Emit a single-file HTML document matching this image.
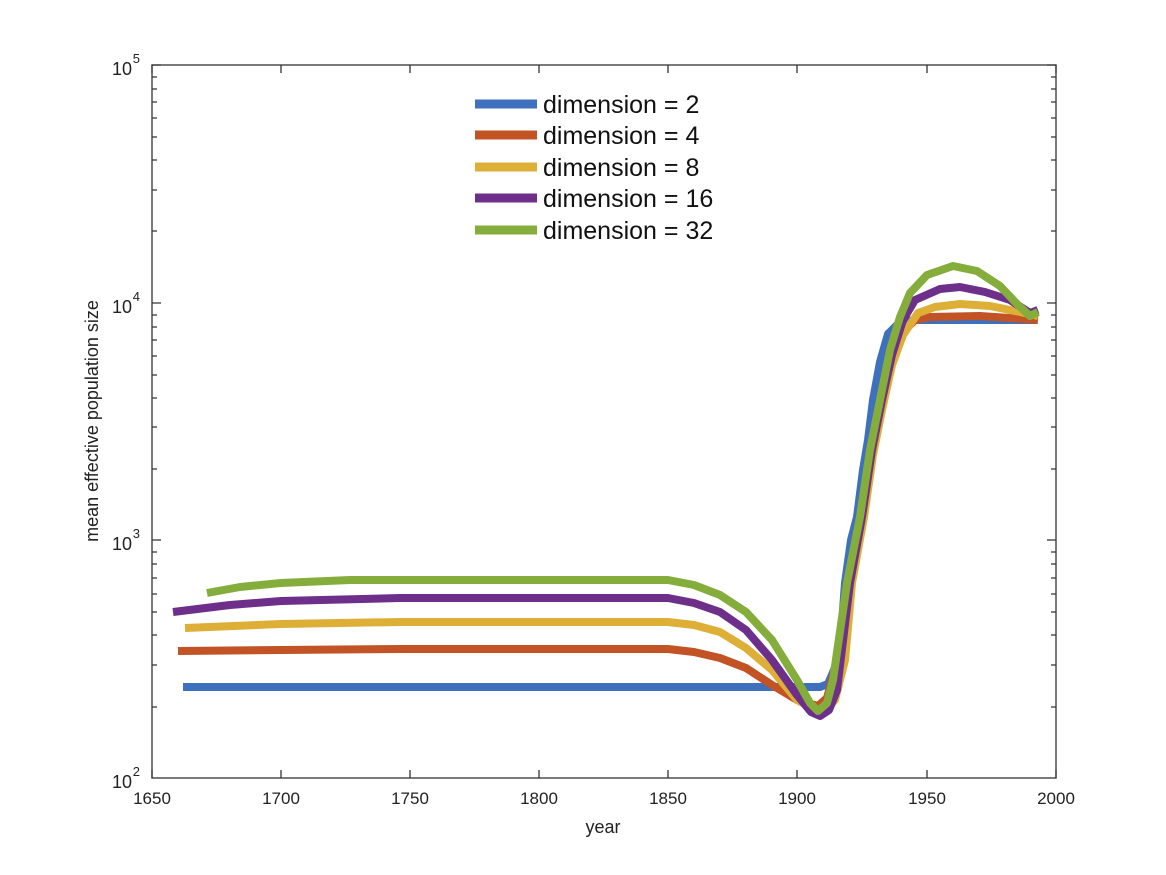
<!DOCTYPE html>
<html><head><style>body{margin:0;background:#fff}svg{display:block}</style></head><body>
<svg width="1166" height="875" xmlns="http://www.w3.org/2000/svg" font-family="Liberation Sans, sans-serif">
<rect width="1166" height="875" fill="#fff"/>
<g fill="none" stroke-width="8" stroke-linejoin="round">
<polyline stroke="#3f70bd" points="183,687 820,687 828,684 834,670 840,650 845,583 851,540 857,517 863,470 868,440 873,400 880,362 888,334 900,322 915,320 1037,320"/>
<polyline stroke="#c15325" points="178,651 281,650 400,649 668,649 694,652 720,658 746,668 772,685 797,700 818,706 827,698 840,650 848,583 861,517 870,455 879,410 889,365 900,335 915,320 930,317 980,316 1038,320"/>
<polyline stroke="#deaf36" points="185,628 281,624 400,622 668,622 694,625 720,632 746,648 772,670 797,700 823,713 835,700 845,660 852,583 864,517 873,455 882,410 892,365 903,335 918,313 935,307 960,304 990,306 1020,312 1038,316"/>
<polyline stroke="#6e2f8a" points="173,612 230,605 281,601 400,598 668,598 694,603 720,612 746,630 772,660 797,695 811,712 820,716 829,710 837,690 850,583 862,517 872,450 882,400 892,355 903,320 915,300 940,289 960,287 985,292 1010,300 1030,313 1038,310"/>
<polyline stroke="#84ad3c" points="207,593 240,587 281,583 350,580 668,580 694,585 720,595 746,612 772,640 797,680 810,703 818,711 827,703 833,680 847,583 860,517 870,450 880,400 890,350 900,317 910,293 927,275 953,266 977,271 1000,286 1017,304 1030,316 1038,312"/>
</g>
<g stroke="#333" stroke-width="1.3" fill="none">
<rect x="152" y="65" width="904" height="713"/>
<path d="M152,65v8M281,65v8M410,65v8M539,65v8M668,65v8M797,65v8M927,65v8M1056,65v8M152,778v-8M281,778v-8M410,778v-8M539,778v-8M668,778v-8M797,778v-8M927,778v-8M1056,778v-8
M152,65h9M152,303h9M152,540h9M1056,65h-9M1056,303h-9M1056,540h-9"/>
</g>
<g stroke="#333" stroke-width="1.2">
<path d="M152,707h5M152,665h5M152,635h5M152,612h5M152,594h5M152,578h5M152,564h5M152,552h5
M152,469h5M152,427h5M152,398h5M152,375h5M152,356h5M152,340h5M152,327h5M152,315h5
M152,231h5M152,190h5M152,160h5M152,137h5M152,118h5M152,102h5M152,89h5M152,77h5
M1056,707h-5M1056,665h-5M1056,635h-5M1056,612h-5M1056,594h-5M1056,578h-5M1056,564h-5M1056,552h-5
M1056,469h-5M1056,427h-5M1056,398h-5M1056,375h-5M1056,356h-5M1056,340h-5M1056,327h-5M1056,315h-5
M1056,231h-5M1056,190h-5M1056,160h-5M1056,137h-5M1056,118h-5M1056,102h-5M1056,89h-5M1056,77h-5"/>
</g>
<g font-size="17" fill="#222" text-anchor="middle">
<text x="152" y="804">1650</text><text x="281" y="804">1700</text><text x="410" y="804">1750</text><text x="539" y="804">1800</text><text x="668" y="804">1850</text><text x="797" y="804">1900</text><text x="927" y="804">1950</text><text x="1056" y="804">2000</text>
<text x="603" y="833" font-size="18">year</text>
</g>
<g font-size="18" fill="#222" text-anchor="end">
<text x="132" y="75">10</text><text x="140" y="63" font-size="13">5</text>
<text x="132" y="313">10</text><text x="140" y="301" font-size="13">4</text>
<text x="132" y="550">10</text><text x="140" y="538" font-size="13">3</text>
<text x="132" y="788">10</text><text x="140" y="776" font-size="13">2</text>
</g>
<text transform="translate(98,421) rotate(-90)" font-size="18" fill="#222" text-anchor="middle">mean effective population size</text>
<g stroke-width="9">
<line x1="475" y1="104" x2="537" y2="104" stroke="#3f70bd"/>
<line x1="475" y1="135" x2="537" y2="135" stroke="#c15325"/>
<line x1="475" y1="167" x2="537" y2="167" stroke="#deaf36"/>
<line x1="475" y1="198" x2="537" y2="198" stroke="#6e2f8a"/>
<line x1="475" y1="230" x2="537" y2="230" stroke="#84ad3c"/>
</g>
<g font-size="25" fill="#111">
<text x="543" y="113">dimension = 2</text>
<text x="543" y="144">dimension = 4</text>
<text x="543" y="176">dimension = 8</text>
<text x="543" y="207">dimension = 16</text>
<text x="543" y="239">dimension = 32</text>
</g>
</svg>
</body></html>
